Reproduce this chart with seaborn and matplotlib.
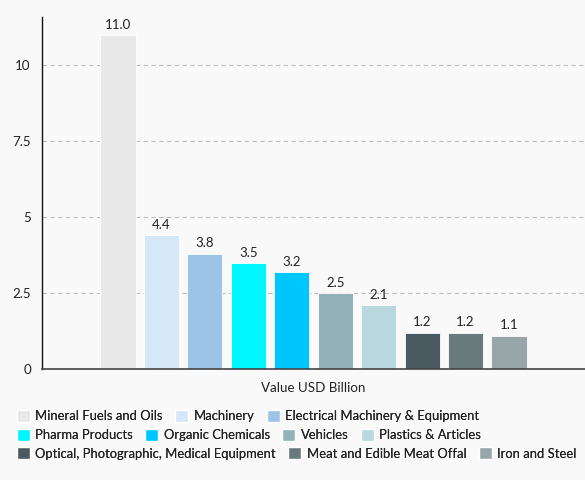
import pandas as pd
import matplotlib.pyplot as plt
import seaborn as sns
from matplotlib.patches import Patch

# datos
categories = ["Mineral Fuels and Oils", "Machinery", "Electrical Machinery & Equipment",
              "Pharma Products", "Organic Chemicals", "Vehicles", "Plastics & Articles",
              "Optical, Photographic, Medical Equipment", "Meat and Edible Meat Offal",
              "Iron and Steel"]
values = [11.0, 4.4, 3.8, 3.5, 3.2, 2.5, 2.1, 1.2, 1.2, 1.1]
colors = ["#e8e8e8", "#d6e7f7", "#9cc4e6", "#00f7ff", "#00c6ff", "#93b2b7",
          "#b8d8de", "#4a5a60", "#697a7d", "#98a5a9"]
metric = "Value USD Billion"
yticks = [0, 2.5, 5, 7.5, 10]
ytick_labels = ["0", "2.5", "5", "7.5", "10"]

sns.set_style("white")
plt.rcParams['font.family'] = ['Lato', 'DejaVu Sans']
bg = "#f9f9f9"

df = pd.DataFrame({"metric": metric, "category": categories, "value": values})

fig = plt.figure(figsize=(5.85, 4.8), dpi=100, facecolor=bg)
ax = fig.add_axes([42 / 585, 111 / 480, 543 / 585, 352 / 480])
ax.set_facecolor(bg)

sns.barplot(data=df, x="metric", y="value", hue="category", hue_order=categories,
            palette=colors, saturation=1, width=0.8, gap=0.19, edgecolor="white",
            linewidth=0.6, legend=False, ax=ax)

ax.set_xlim(-0.5, 0.5)
ax.set_ylim(0, 11.59)
ax.set_yticks(yticks)
ax.set_yticklabels(ytick_labels)
ax.grid(axis="y", linestyle=(0, (4, 3)), color="#bdbdbd", linewidth=0.8)
ax.set_axisbelow(True)
ax.tick_params(axis="both", length=0, labelsize=9.6, colors="#222222")
ax.tick_params(axis="x", pad=9)
ax.tick_params(axis="y", pad=8)
ax.set_xlabel("")
ax.set_ylabel("")
for s in ["top", "right"]:
    ax.spines[s].set_visible(False)
ax.spines["left"].set_color("#111111")
ax.spines["bottom"].set_color("#444444")
ax.spines["left"].set_linewidth(1.0)
ax.spines["bottom"].set_linewidth(1.2)

# etiquetas de valor
for cont in ax.containers:
    ax.bar_label(cont, fmt="%.1f", padding=3, fontsize=9.5, color="#222222")

# leyenda en tres filas
rows = [categories[0:3], categories[3:7], categories[7:10]]
ys = [416, 435, 453.5]
for row, y in zip(rows, ys):
    handles = [Patch(facecolor=colors[categories.index(c)], edgecolor="white", label=c) for c in row]
    leg = fig.legend(handles=handles, loc="center left", bbox_to_anchor=(17 / 585, 1 - y / 480),
                     ncol=len(row), frameon=False, fontsize=9.4, handlelength=1.0,
                     handleheight=1.0, handletextpad=0.4, columnspacing=0.95,
                     borderaxespad=0, borderpad=0)
    for t in leg.get_texts():
        t.set_color("#222222")
    fig.add_artist(leg)

fig.savefig("out.png", dpi=100, facecolor=bg)
